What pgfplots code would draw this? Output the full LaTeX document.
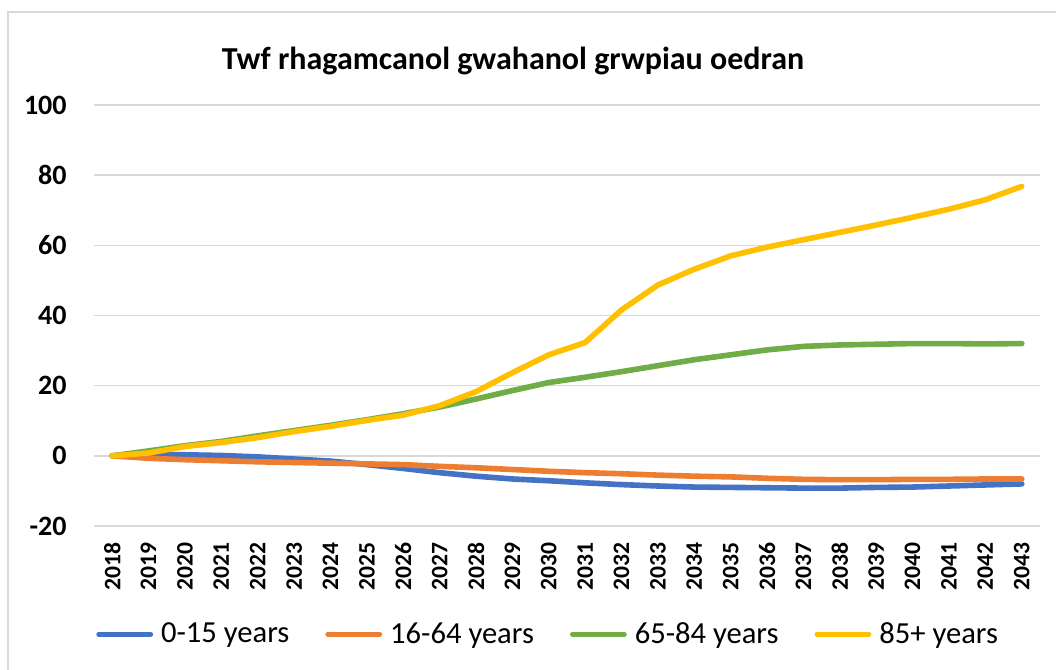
\documentclass[border=0pt]{standalone}
\usepackage{fontspec}
\setmainfont{Carlito}
\usepackage{pgfplots}
\pgfplotsset{compat=1.18}
\definecolor{cBlue}{HTML}{4472C4}
\definecolor{cOrange}{HTML}{ED7D31}
\definecolor{cGreen}{HTML}{70AD47}
\definecolor{cYellow}{HTML}{FFC000}
\definecolor{cGrid}{HTML}{D9D9D9}
\begin{document}
\begin{tikzpicture}
\useasboundingbox (0,0) rectangle (528pt,335pt);
\draw[cGrid, line width=1pt] (4pt,0) -- (4pt,329pt) -- (528pt,329pt);
\node[anchor=base, font=\bfseries\fontsize{16}{19}\selectfont, inner sep=0pt] at (256.5pt,300pt) {Twf rhagamcanol gwahanol grwpiau oedran};
\begin{axis}[
  at={(47pt,72pt)}, anchor=south west,
  width=473pt, height=210.5pt, scale only axis,
  xmin=2017.5, xmax=2043.5, ymin=-20, ymax=100,
  xtick={2018,...,2043}, ytick={-20,0,...,100},
  axis line style={draw=none},
  major tick length=0pt,
  ymajorgrids=true,
  major grid style={cGrid, line width=0.75pt},
  /pgf/number format/assume math mode=true,
  /pgf/number format/1000 sep={},
  yticklabel style={font=\bfseries\fontsize{14}{16}\selectfont, anchor=east, inner sep=0pt},
  yticklabel shift=13.5pt,
  xticklabel style={font=\bfseries\fontsize{11.8}{13}\selectfont, rotate=90, anchor=east, inner sep=0pt},
  xticklabel shift=8pt,
  legend columns=4,
  legend style={at={(0.002,-0.257)}, anchor=west, draw=none, fill=none, inner sep=0pt,
    font=\fontsize{15.3}{18}\selectfont, column sep=2pt,
    /tikz/every even column/.append style={column sep=16pt}},
  legend cell align=left,
  legend image code/.code={\draw[#1, line width=2.4pt, line cap=round] (0pt,0pt) -- (26pt,0pt);},
  every axis plot/.append style={line width=2.8pt, line join=round, line cap=round},
]
\addplot[cBlue] coordinates {(2018,0) (2019,0.3) (2020,0.3) (2021,0.1) (2022,-0.3) (2023,-0.9) (2024,-1.5) (2025,-2.5) (2026,-3.6) (2027,-4.8) (2028,-5.8) (2029,-6.6) (2030,-7.1) (2031,-7.7) (2032,-8.2) (2033,-8.6) (2034,-8.9) (2035,-9.0) (2036,-9.1) (2037,-9.2) (2038,-9.2) (2039,-9.0) (2040,-8.9) (2041,-8.6) (2042,-8.3) (2043,-8.0)};
\addlegendentry{0-15 years}
\addplot[cOrange] coordinates {(2018,0) (2019,-0.7) (2020,-1.1) (2021,-1.4) (2022,-1.7) (2023,-1.9) (2024,-2.1) (2025,-2.3) (2026,-2.5) (2027,-3.0) (2028,-3.4) (2029,-3.9) (2030,-4.4) (2031,-4.8) (2032,-5.1) (2033,-5.5) (2034,-5.8) (2035,-6.0) (2036,-6.4) (2037,-6.7) (2038,-6.8) (2039,-6.8) (2040,-6.7) (2041,-6.7) (2042,-6.6) (2043,-6.6)};
\addlegendentry{16-64 years}
\addplot[cGreen] coordinates {(2018,0) (2019,1.4) (2020,2.9) (2021,4.1) (2022,5.7) (2023,7.2) (2024,8.7) (2025,10.3) (2026,12.0) (2027,13.9) (2028,16.2) (2029,18.6) (2030,20.9) (2031,22.4) (2032,24.0) (2033,25.7) (2034,27.4) (2035,28.8) (2036,30.2) (2037,31.2) (2038,31.6) (2039,31.8) (2040,32.0) (2041,32.0) (2042,31.9) (2043,32.0)};
\addlegendentry{65-84 years}
\addplot[cYellow] coordinates {(2018,0) (2019,0.8) (2020,2.65) (2021,3.8) (2022,5.2) (2023,6.9) (2024,8.4) (2025,10.1) (2026,11.6) (2027,14.3) (2028,18.3) (2029,23.7) (2030,28.8) (2031,32.3) (2032,41.6) (2033,48.7) (2034,53.2) (2035,57.0) (2036,59.5) (2037,61.6) (2038,63.7) (2039,65.8) (2040,68.0) (2041,70.3) (2042,73.0) (2043,76.8)};
\addlegendentry{85+ years}
\end{axis}
\end{tikzpicture}
\end{document}
